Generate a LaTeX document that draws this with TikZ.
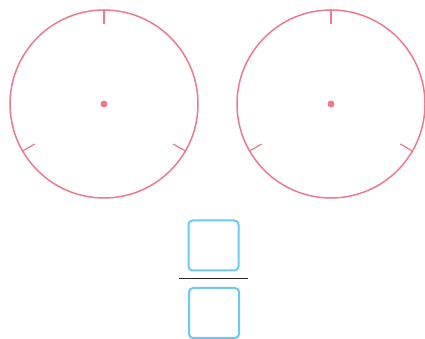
\documentclass[tikz,border=0pt]{standalone}
\usepackage{xcolor}
\usetikzlibrary{calc,positioning}
\definecolor{clockpink}{RGB}{238,122,142}
\definecolor{boxblue}{RGB}{108,202,242}

\begin{document}
\begin{tikzpicture}[
  x=1pt, y=1pt,
  dial/.style={circle,draw=clockpink,line width=1.5pt,minimum size=188pt,
               inner sep=0pt,outer sep=0pt},
  tick/.style={draw=clockpink,line width=1.2pt},
  slot/.style={draw=boxblue,rounded corners=4pt,line width=2pt,
               minimum size=50pt,inner sep=0pt}
]
\useasboundingbox (0,0) rectangle (425,339);
\node[dial] (left) at (104,235) {};
\node[dial] (right) at (331,235) {};
\foreach \c in {left,right}{
  \fill[clockpink] (\c) circle (3.5pt);
  \foreach \a in {90,210,330}
    \draw[tick] (\c.\a) -- ($(\c.\a)!14pt!(\c)$);
}
\node[slot] (num) at (213.5,93.5) {};
\node[slot] (den) at (214,26) {};
\coordinate (barl) at (179,60);
\coordinate (barr) at (248,60);
\draw[line width=1pt,black!85] (barl) -- (barr);
\end{tikzpicture}
\end{document}
